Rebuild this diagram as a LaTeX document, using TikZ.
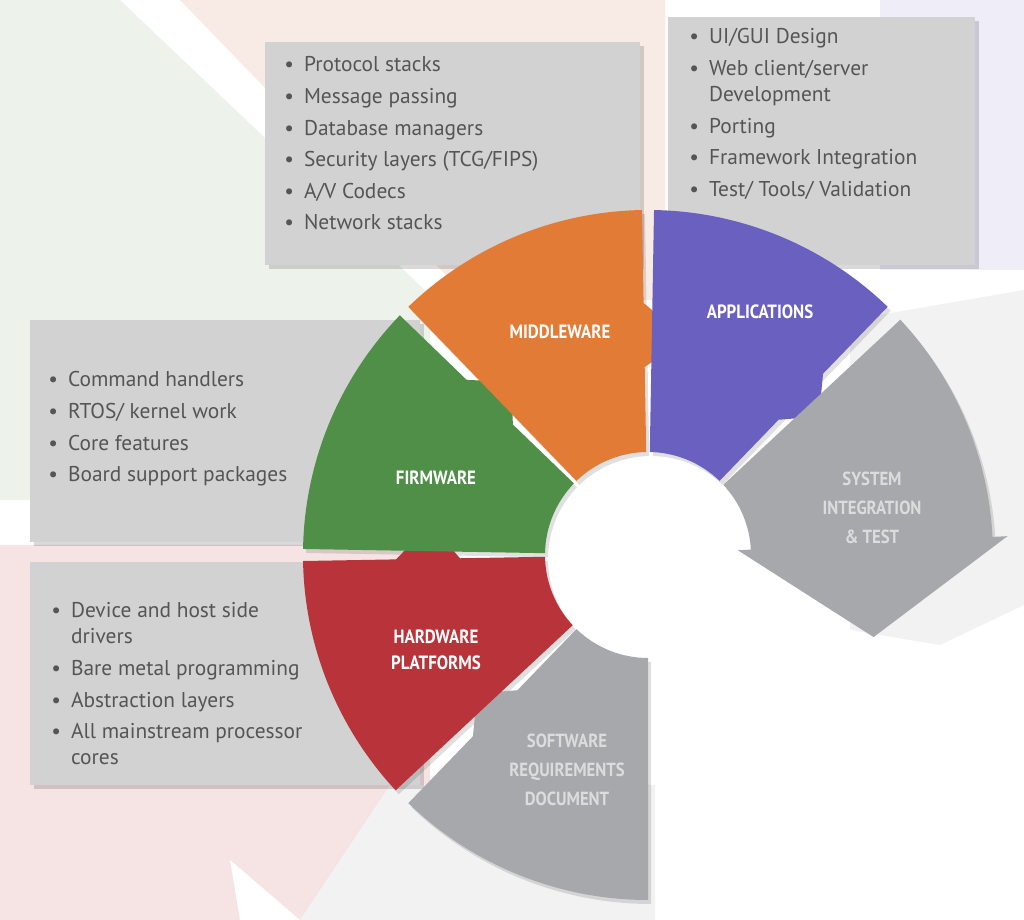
\documentclass[tikz,border=0pt]{standalone}
\usepackage{fontspec}
\setmainfont{PT Sans}
\newfontfamily\labfont[FakeStretch=0.88]{PT Sans}
\usetikzlibrary{calc}
\definecolor{cOr}{HTML}{E27B36}
\definecolor{cPu}{HTML}{6A60C0}
\definecolor{cGr}{HTML}{4F8F47}
\definecolor{cRe}{HTML}{B8343A}
\definecolor{cGy}{HTML}{A7A8AB}
\definecolor{cBox}{HTML}{D2D2D2}
\definecolor{cTxt}{HTML}{555555}
\definecolor{cLab}{HTML}{DCDCDC}
\definecolor{bgGreen}{HTML}{EDF3EB}
\definecolor{bgPeach}{HTML}{F8EBE5}
\definecolor{bgLav}{HTML}{EEEDF8}
\definecolor{bgPink}{HTML}{F6E3E3}
\definecolor{bgGray}{HTML}{F2F2F2}
\tikzset{
  listbox/.style={fill=cBox, draw=none, inner sep=0pt},
  listtxt/.style={text=cTxt, anchor=base west, inner sep=0pt, font=\fontsize{10.7}{13}\selectfont},
  seglab/.style={text=white, align=center, font=\labfont\bfseries\fontsize{9.6}{13}\selectfont},
  graylab/.style={text=cLab, align=center, font=\labfont\bfseries\fontsize{9.5}{14.5}\selectfont},
}
\newcommand\mysmallseg[4]{% color, start, end, tip
  \fill[#1] (#2:103) -- (#2:345) arc[start angle=#2,end angle=#3,radius=345]
    -- (#3:252) -- (#4:220) -- (#3:188) -- (#3:103)
    arc[start angle=#3,end angle=#2,radius=103] -- cycle;}
\newcommand\myshadowseg[3]{%
  \fill[black,opacity=0.12,shift={(3,-4)}] (#2:103) -- (#2:345) arc[start angle=#2,end angle=#3,radius=345]
    -- (#3:103) arc[start angle=#3,end angle=#2,radius=103] -- cycle;}
\begin{document}
\begin{tikzpicture}[x=0.5pt,y=0.5pt]
\useasboundingbox (0,0) rectangle (1024,920);
% background
\fill[white] (0,0) rectangle (1024,920);
\fill[bgGreen] (0,920) -- (120,920) -- (430,625) -- (430,420) -- (0,420) -- cycle;
\fill[bgPeach] (180,920) -- (665,920) -- (665,620) -- (470,620) -- cycle;
\fill[bgLav] (880,920) -- (1024,920) -- (1024,650) -- (880,650) -- cycle;
\fill[bgGray] (850,600) -- (1024,630) -- (1024,315) -- (940,275) -- (850,290) -- cycle;
\fill[bgPink] (0,375) -- (430,375) -- (430,120) -- (370,0) -- (0,0) -- cycle;
\fill[bgGray] (390,135) -- (655,135) -- (655,0) -- (300,0) -- cycle;
\fill[white] (230,60) -- (300,0) -- (240,0) -- cycle;
% boxes
\fill[black,opacity=0.15] (269,651) rectangle (644,874);
\node[listbox, minimum width=187.5pt, minimum height=111.5pt] (mwbox) at (452.5,766.5) {};
\fill[black,opacity=0.15] (672,651) rectangle (979,899);
\node[listbox, minimum width=153.5pt, minimum height=124pt] (apbox) at (821.5,779) {};
\fill[black,opacity=0.15] (34,374) rectangle (424,596);
\node[listbox, minimum width=195pt, minimum height=111pt] (fwbox) at (225,489) {};
\fill[black,opacity=0.15] (34,131) rectangle (424,354);
\node[listbox, minimum width=195pt, minimum height=111.5pt] (hwbox) at (225,246.5) {};
% list texts
\node[listtxt] (mwtxt) at (284,920-72) {\begin{tabular}[t]{@{}l@{\hspace{5pt}}l@{}}
\textbullet & Protocol stacks\\[2.8pt]
\textbullet & Message passing\\[2.8pt]
\textbullet & Database managers\\[2.8pt]
\textbullet & Security layers (TCG/FIPS)\\[2.8pt]
\textbullet & A/V Codecs\\[2.8pt]
\textbullet & Network stacks\end{tabular}};
\node[listtxt] (aptxt) at (689,920-44) {\begin{tabular}[t]{@{}l@{\hspace{5pt}}l@{}}
\textbullet & UI/GUI Design\\[2.8pt]
\textbullet & Web client/server\\
 & Development\\[2.8pt]
\textbullet & Porting\\[2.8pt]
\textbullet & Framework Integration\\[2.8pt]
\textbullet & Test/ Tools/ Validation\end{tabular}};
\node[listtxt] (fwtxt) at (48,920-387) {\begin{tabular}[t]{@{}l@{\hspace{5pt}}l@{}}
\textbullet & Command handlers\\[2.8pt]
\textbullet & RTOS/ kernel work\\[2.8pt]
\textbullet & Core features\\[2.8pt]
\textbullet & Board support packages\end{tabular}};
\node[listtxt] (hwtxt) at (51,920-618) {\begin{tabular}[t]{@{}l@{\hspace{5pt}}l@{}}
\textbullet & Device and host side\\
 & drivers\\[2.8pt]
\textbullet & Bare metal programming\\[2.8pt]
\textbullet & Abstraction layers\\[2.8pt]
\textbullet & All mainstream processor\\
 & cores\end{tabular}};
% wheel
\begin{scope}[shift={(648,365)}]
\fill[white] (0,0) circle (110);
\myshadowseg{}{-90}{-134}
\myshadowseg{}{-137}{-179}
\myshadowseg{}{179}{136}
\myshadowseg{}{134}{91}
\myshadowseg{}{89}{46}
\myshadowseg{}{43}{3}
\mysmallseg{cGy}{-90}{-134}{-141}
\mysmallseg{cRe}{-137}{-179}{-188}
\mysmallseg{cGr}{179}{136}{128}
\mysmallseg{cOr}{134}{91}{80}
\mysmallseg{cPu}{89}{46}{39}
\fill[cGy] (43:103) -- (43:345) arc[start angle=43,end angle=3,radius=345]
  -- (3:360) -- (-20:240) -- (3:90) -- (3:103) arc[start angle=3,end angle=43,radius=103] -- cycle;
\end{scope}
% labels
\node[seglab] (mwl) at (560,920-332) {MIDDLEWARE};
\node[seglab] (apl) at (760,920-312) {APPLICATIONS};
\node[seglab] (fwl) at (436,920-478) {FIRMWARE};
\node[seglab] (hwl) at (436,920-650) {HARDWARE\\PLATFORMS};
\node[graylab] (sil) at (872,920-508) {SYSTEM\\INTEGRATION\\\& TEST};
\node[graylab] (srl) at (567,920-770) {SOFTWARE\\REQUIREMENTS\\DOCUMENT};
\end{tikzpicture}
\end{document}
